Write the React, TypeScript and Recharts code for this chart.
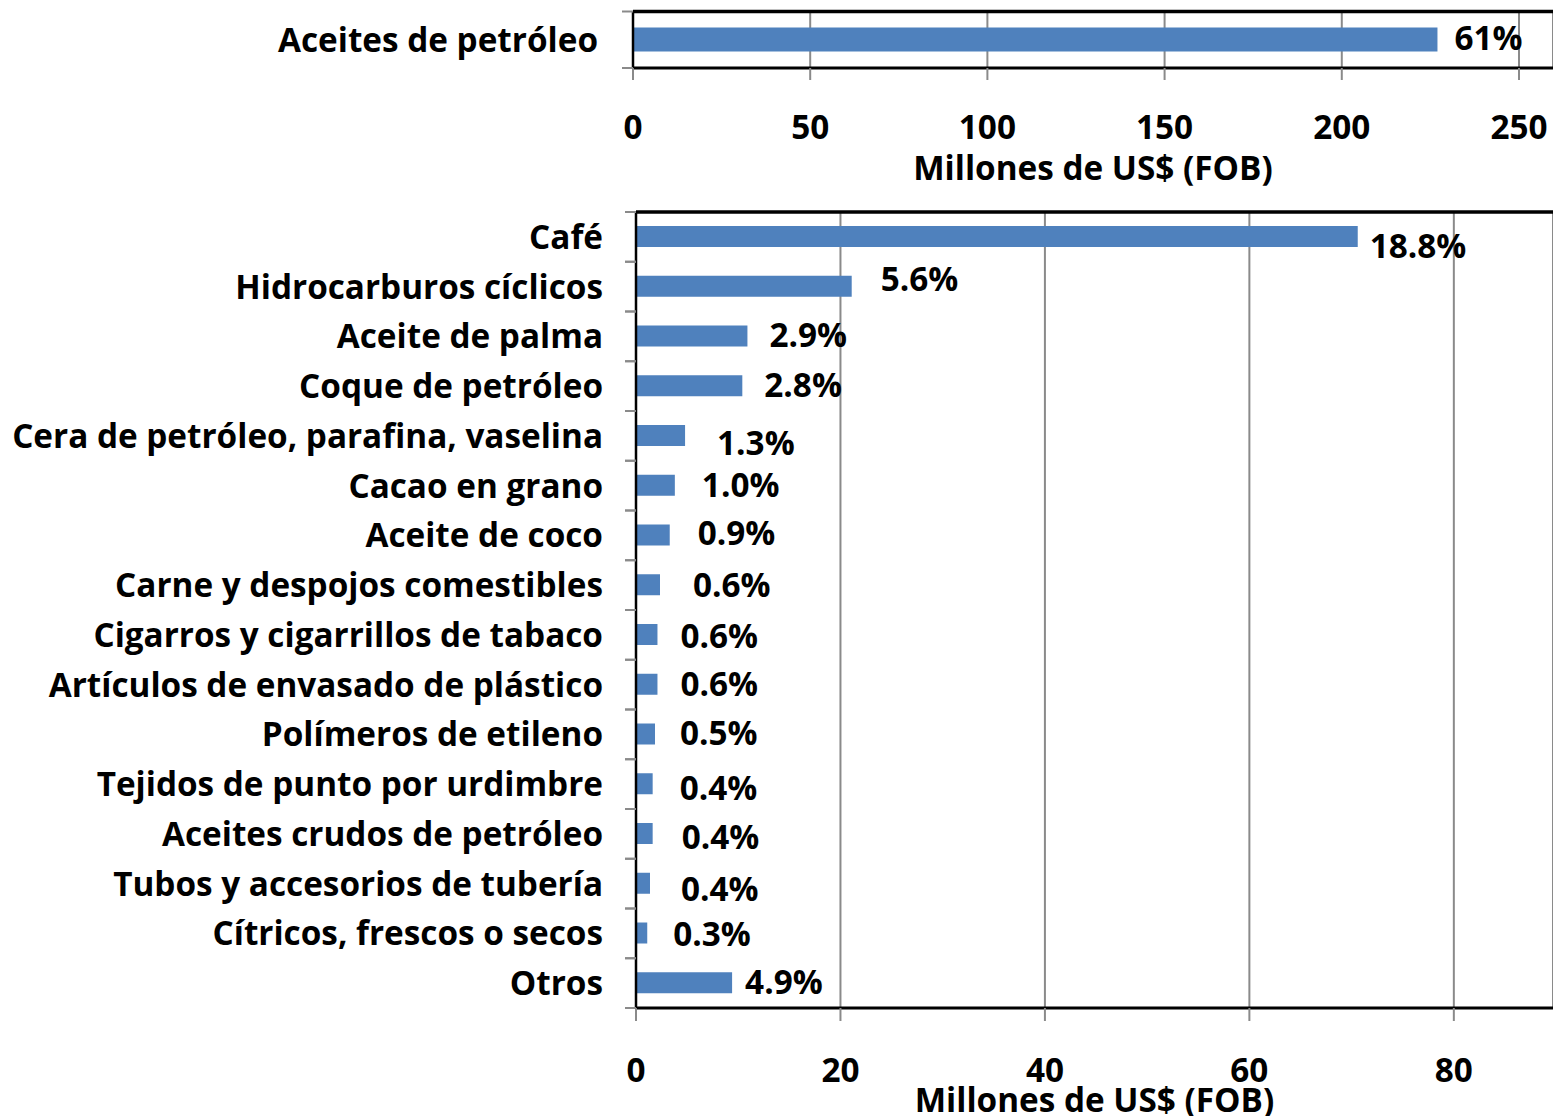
import React from 'react';
import { BarChart, Bar, XAxis, YAxis, CartesianGrid, LabelList, Label } from 'recharts';

// ---- data ----
const topCategories = ['Aceites de petróleo'];
const topValues = [227];
const topPctLabels = ['61%'];
const topTicks = [0, 50, 100, 150, 200, 250];

const categories = [
  'Café',
  'Hidrocarburos cíclicos',
  'Aceite de palma',
  'Coque de petróleo',
  'Cera de petróleo, parafina, vaselina',
  'Cacao en grano',
  'Aceite de coco',
  'Carne y despojos comestibles',
  'Cigarros y cigarrillos de tabaco',
  'Artículos de envasado de plástico',
  'Polímeros de etileno',
  'Tejidos de punto por urdimbre',
  'Aceites crudos de petróleo',
  'Tubos y accesorios de tubería',
  'Cítricos, frescos o secos',
  'Otros',
];
const values = [70.6, 21.1, 10.9, 10.4, 4.8, 3.8, 3.3, 2.35, 2.1, 2.1, 1.86, 1.63, 1.63, 1.37, 1.1, 9.4];
const pctLabels = ['18.8%', '5.6%', '2.9%', '2.8%', '1.3%', '1.0%', '0.9%', '0.6%', '0.6%', '0.6%', '0.5%', '0.4%', '0.4%', '0.4%', '0.3%', '4.9%'];
const bottomTicks = [0, 20, 40, 60, 80];
const axisTitle = 'Millones de US$ (FOB)';

// label placement nudges (px, relative to bar end) – layout only
const topLabelNudge = [[-8, -1]];
const labelNudge = [
  [-13, 10], [4, -7], [-3, -1], [-3, -1], [7, 8], [2, 0], [3, -2], [8, 0],
  [-2, 2], [-2, 0], [0, -1], [2, 4], [4, 4], [6, 6], [1, 1], [-12, -1],
];

// ---- styles ----
const FONT = "'Open Sans', 'DejaVu Sans', sans-serif";
const BAR = '#4F81BD';
const GRID = '#8a8a8a';
const textStyle = { fill: '#000', fontSize: 33.3, fontWeight: 700, fontFamily: FONT };

const topRows = topCategories.map((name, i) => ({ name, value: topValues[i], label: topPctLabels[i] }));
const rows = categories.map((name, i) => ({ name, value: values[i], label: pctLabels[i] }));

const makeLabel = (nudges: number[][]) => (props: any) => {
  const { x, y, width, height, index, value } = props;
  const n = nudges[index] || [0, 0];
  return (
    <text
      x={Number(x) + Number(width) + 25 + n[0]}
      y={Number(y) + Number(height) / 2 + n[1]}
      dy="0.36em"
      textAnchor="start"
      style={textStyle as any}
    >
      {value}
    </text>
  );
};

// category tick: label + tick marks on the category boundaries (Excel style)
const makeCatTick = (margin: number) => (props: any) => {
  const { x, y, payload } = props;
  const half = payload && typeof payload.offset === 'number' ? payload.offset : 0;
  const ax = Number(x) + margin;
  return (
    <g>
      {half > 0 && (
        <>
          <line x1={ax - 11} x2={ax} y1={y - half} y2={y - half} stroke={GRID} strokeWidth={2} />
          <line x1={ax - 11} x2={ax} y1={y + half} y2={y + half} stroke={GRID} strokeWidth={2} />
        </>
      )}
      <text x={x} y={y} dy="0.36em" textAnchor="end" style={textStyle as any}>
        {payload.value}
      </text>
    </g>
  );
};

const topEdge = (p: any) => [p && p.offset ? p.offset.top : 0];

function Panel(props: {
  rows: any[];
  height: number;
  marginTop: number;
  axisWidth: number;
  domainMax: number;
  ticks: number[];
  xAxisHeight: number;
  xTickSize: number;
  xTickMargin: number;
  titleOffset: number;
  barSize: number;
  nudges: number[][];
  catMargin: number;
}) {
  return (
    <BarChart
      width={1553}
      height={props.height}
      data={props.rows}
      layout="vertical"
      margin={{ top: props.marginTop, right: 0, left: 0, bottom: 0 }}
    >
      <CartesianGrid horizontal={false} stroke={GRID} strokeWidth={2} />
      <CartesianGrid vertical={false} horizontalCoordinatesGenerator={topEdge} stroke="#000" strokeWidth={3.5} />
      <YAxis
        type="category"
        dataKey="name"
        width={props.axisWidth}
        axisLine={{ stroke: '#000', strokeWidth: 2.5 }}
        tickLine={false}
        tickSize={0}
        tickMargin={props.catMargin}
        tick={makeCatTick(props.catMargin)}
        interval={0}
      />
      <XAxis
        type="number"
        domain={[0, props.domainMax]}
        ticks={props.ticks}
        height={props.xAxisHeight}
        tickSize={props.xTickSize}
        tickMargin={props.xTickMargin}
        tickLine={{ stroke: GRID, strokeWidth: 2 }}
        axisLine={{ stroke: '#000', strokeWidth: 3 }}
        tick={textStyle}
        allowDataOverflow
      >
        <Label value={axisTitle} position="insideBottom" offset={props.titleOffset} style={textStyle as any} />
      </XAxis>
      <Bar dataKey="value" fill={BAR} barSize={props.barSize} isAnimationActive={false}>
        <LabelList dataKey="label" content={makeLabel(props.nudges)} />
      </Bar>
    </BarChart>
  );
}

export default function App() {
  return (
    <div style={{ position: 'absolute', left: 0, top: 0, width: 1553, height: 1116, overflow: 'hidden', background: '#fff' }}>
      <div style={{ position: 'absolute', left: 0, top: 0 }}>
        <Panel
          rows={topRows}
          height={190}
          marginTop={11.5}
          axisWidth={633}
          domainMax={259.6}
          ticks={topTicks}
          xAxisHeight={122}
          xTickSize={12}
          xTickMargin={35}
          titleOffset={10}
          barSize={24}
          nudges={topLabelNudge}
          catMargin={35}
        />
      </div>
      <div style={{ position: 'absolute', left: 0, top: 180 }}>
        <Panel
          rows={rows}
          height={936}
          marginTop={32}
          axisWidth={636}
          domainMax={89.7}
          ticks={bottomTicks}
          xAxisHeight={108}
          xTickSize={13}
          xTickMargin={37}
          titleOffset={4}
          barSize={21}
          nudges={labelNudge}
          catMargin={33}
        />
      </div>
    </div>
  );
}
